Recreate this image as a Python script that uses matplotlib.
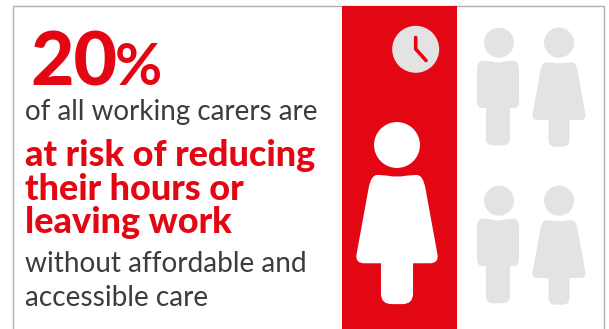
import matplotlib
matplotlib.use("Agg")
import matplotlib.pyplot as plt
from matplotlib.patches import Circle, PathPatch, Rectangle
from matplotlib.path import Path

RED = "#e30613"
GREY = "#e3e3e3"
DARK = "#3c3c3b"

share_value = "20"
share_unit = "%"
intro_line = "of all working carers are"
bold_lines = ["at risk of reducing", "their hours or", "leaving work"]
closing_lines = ["without affordable and", "accessible care"]

# one person in five is highlighted, the others stay grey
people_kinds = ["woman", "man", "woman", "man", "woman"]
people_highlight = [True, False, False, False, False]
people_x = [397, 499, 559, 499, 559]
people_y = [145, 42.7, 42.7, 200.7, 200.7]
people_scale = [1.53, 1, 1, 1, 1]

# outlines around the head centre: x, y, corner radius (right side, mirrored for the left)
WOMAN = [(0, 21, 12), (9, 19.6, 5), (17, 19.6, 9), (27.5, 77.3, 6), (10.5, 77.3, 0), (10.5, 104, 7)]
MAN = [(0, 20.5, 12), (9, 18, 5), (21, 18, 9), (21, 65.3, 8), (12, 65.3, 0), (12, 102.6, 7)]


def rounded_path(points):
    # closed polygon, each corner replaced by a quadratic curve
    verts, codes = [], []
    n = len(points)
    for i in range(n):
        x, y, r = points[i]
        px, py, _ = points[i - 1]
        nx, ny, _ = points[(i + 1) % n]
        d1 = ((px - x) ** 2 + (py - y) ** 2) ** 0.5
        d2 = ((nx - x) ** 2 + (ny - y) ** 2) ** 0.5
        r1 = min(r, d1 / 2)
        r2 = min(r, d2 / 2)
        a = (x + (px - x) * r1 / d1, y + (py - y) * r1 / d1)
        b = (x + (nx - x) * r2 / d2, y + (ny - y) * r2 / d2)
        verts.append(a)
        codes.append(Path.MOVETO if i == 0 else Path.LINETO)
        verts += [(x, y), b]
        codes += [Path.CURVE3, Path.CURVE3]
    verts.append(verts[0])
    codes.append(Path.CLOSEPOLY)
    return Path(verts, codes)


def draw_person(ax, kind, cx, cy, scale, color):
    outline = WOMAN if kind == "woman" else MAN
    right = [(x, y, r) for x, y, r in outline]
    left = [(-x, y, r) for x, y, r in outline[:0:-1]]
    pts = [(cx + x * scale, cy + y * scale, r * scale) for x, y, r in right + left]
    shift = -1 if kind == "man" else 0
    pts = [(x + shift, y, r) for x, y, r in pts]
    ax.add_patch(Circle((cx, cy), 15 * scale, fc=color, ec="none", zorder=3))
    ax.add_patch(PathPatch(rounded_path(pts), fc=color, ec="none", zorder=3))


fig = plt.figure(figsize=(6.09, 3.29), dpi=100)
ax = fig.add_axes([0, 0, 1, 1])
ax.set_xlim(0, 609)
ax.set_ylim(329, 0)
ax.axis("off")

# frame runs off the bottom edge
ax.plot([12.5, 12.5, 603.5, 603.5], [329, 5.8, 5.8, 329], color="#b2b2b2", lw=1.0, zorder=1)
ax.add_patch(Rectangle((342, 6), 115, 323, fc=RED, ec="none", zorder=2))

for kind, x, y, s, hi in zip(people_kinds, people_x, people_y, people_scale, people_highlight):
    draw_person(ax, kind, x, y, s, "white" if hi else GREY)

# clock
ax.add_patch(Circle((415.7, 49.3), 23.5, fc=GREY, ec="none", zorder=3))
ax.plot([415.7, 415.7, 426], [37.5, 49, 60.5], color=RED, lw=2.6, solid_capstyle="round",
        solid_joinstyle="round", zorder=4)

font = "Lato"
ax.text(30, 85, share_value, color=RED, fontsize=54, fontweight="black", family=font, va="baseline")
ax.text(115, 85, share_unit, color=RED, fontsize=41.5, fontweight="bold", family=font, va="baseline")
ax.text(25, 120, intro_line, color=DARK, fontsize=20, family=font, va="baseline")
for line, y in zip(bold_lines, [166, 200, 233]):
    ax.text(25, y, line, color=RED, fontsize=25.9, fontweight="black", family=font, va="baseline")
for line, y in zip(closing_lines, [272, 306]):
    ax.text(25, y, line, color=DARK, fontsize=20.15, family=font, va="baseline")

fig.savefig("out.png", dpi=100)
